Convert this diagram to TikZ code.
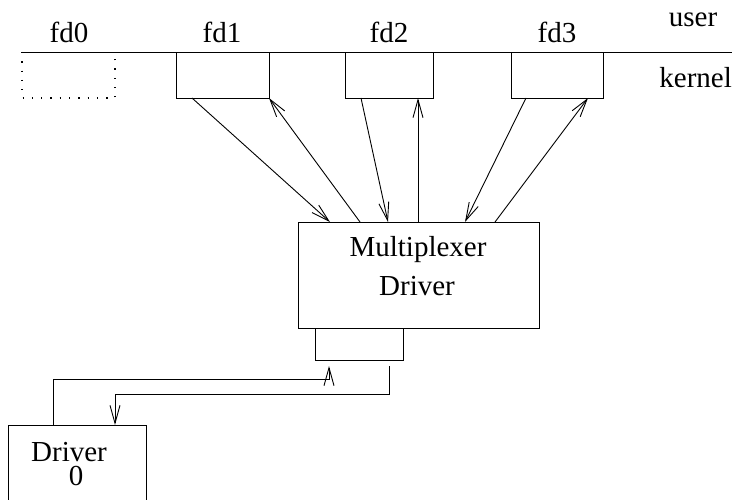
\documentclass[tikz,border=0pt]{standalone}
\usepackage{fontspec}
\setmainfont{Liberation Serif}
\usetikzlibrary{arrows.meta,calc}

\tikzset{
  box/.style={draw, rectangle, inner sep=0pt, outer sep=0pt},
  frame/.style={rectangle, inner sep=0pt, outer sep=0pt},
  lbl/.style={inner sep=0pt, anchor=base, font=\fontsize{29}{34}\selectfont},
  flow/.style={-{Straight Barb[length=18pt,width=10pt]}},
  dotline/.style={dash pattern=on 1.3pt off 8pt, line width=1.3pt},
}

\begin{document}
\begin{tikzpicture}[x=1pt, y=-1pt, line width=0.9pt]
  \clip (0,0) rectangle (732,500);

  % user / kernel boundary with the descriptor slots hanging below it
  \node[frame, minimum width=93pt, minimum height=46pt, anchor=north west] (fd0) at (22,52) {};
  \node[box, minimum width=93pt, minimum height=46pt, anchor=north west] (fd1) at (176,52) {};
  \node[box, minimum width=88pt, minimum height=46pt, anchor=north west] (fd2) at (345,52) {};
  \node[box, minimum width=92pt, minimum height=46pt, anchor=north west] (fd3) at (511,52) {};
  \coordinate (edge) at (732,52);
  \draw (fd0.north west) -- (edge);
  \draw[dotline] (fd0.north west) -- (fd0.south west) -- (fd0.south east) -- (fd0.north east);

  \node[lbl] at (69,43) {fd0};
  \node[lbl] at (222,43) {fd1};
  \node[lbl] at (389,43) {fd2};
  \node[lbl] at (557,43) {fd3};
  \node[lbl] at (693,27) {user};
  \node[lbl, anchor=base west] at (659,88) {kernel};

  % multiplexer and its lower port
  \node[box, minimum width=241pt, minimum height=106pt, anchor=north west] (mux) at (298,222) {};
  \node[lbl] at (418,257) {Multiplexer};
  \node[lbl] at (417,296) {Driver};
  \node[box, minimum width=88pt, minimum height=32pt, anchor=north west] (port) at (315,328) {};

  % lower driver, running off the bottom edge
  \node[box, minimum width=138pt, minimum height=110pt, anchor=north west] (drv) at (8,425) {};
  \node[lbl] at (69,461) {Driver};
  \node[lbl] at (76,485) {0};

  % descriptor <-> multiplexer traffic
  \draw[flow] ([xshift=16pt]fd1.south west) -- ([xshift=32pt]mux.north west);
  \draw[flow] ([xshift=62pt]mux.north west) -- (fd1.south east);
  \draw[flow] ([xshift=16pt]fd2.south west) -- ([xshift=90pt]mux.north west);
  \draw[flow] ([xshift=120pt]mux.north west) -- ([xshift=73pt]fd2.south west);
  \draw[flow] ([xshift=15pt]fd3.south west) -- ([xshift=167pt]mux.north west);
  \draw[flow] ([xshift=197pt]mux.north west) -- ([xshift=77pt]fd3.south west);

  % driver <-> multiplexer port
  \draw[flow] ([xshift=45pt]drv.north west)
      |- ([xshift=14pt,yshift=-19pt]port.south west)
      -- ([xshift=14pt,yshift=-6pt]port.south west);
  \draw[flow] ([xshift=74pt,yshift=-6pt]port.south west)
      -- ([xshift=74pt,yshift=-34pt]port.south west)
      -| ([xshift=107pt]drv.north west);
\end{tikzpicture}
\end{document}
